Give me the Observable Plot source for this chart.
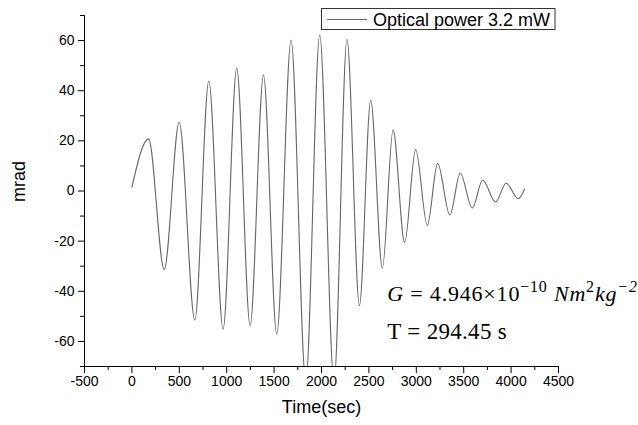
<!DOCTYPE html>
<html><head><meta charset="utf-8">
<script src="https://cdn.jsdelivr.net/npm/d3@7"></script>
<script src="https://cdn.jsdelivr.net/npm/@observablehq/plot@0.6"></script>
<style>body{margin:0;background:#fff}</style>
</head><body><div id="chart"></div>
<script>
const times  = [0, 176, 341, 499, 664, 811, 962, 1106, 1247, 1388, 1528, 1679, 1834, 1981, 2132, 2269,
                2400, 2519, 2642, 2755, 2877, 2993, 3116, 3225, 3354, 3463, 3590, 3700, 3836, 3948, 4076, 4141];
const values = [1.5, 20.8, -31.3, 27.4, -51.5, 43.9, -55.1, 49.0, -53.7, 46.2, -57.1, 60.2, -76, 62.2, -76, 60.5,
                -45.7, 36.3, -30.8, 24.3, -20.5, 16.5, -13.7, 11.0, -9.6, 7.1, -6.8, 4.4, -4.4, 3.1, -3.1, 0.7];
const xTickValues = [-500, 0, 500, 1000, 1500, 2000, 2500, 3000, 3500, 4000, 4500];
const xMinorTicks = [-250, 250, 750, 1250, 1750, 2250, 2750, 3250, 3750, 4250];
const yTickValues = [-60, -40, -20, 0, 20, 40, 60];
const yMinorTicks = [-70, -50, -30, -10, 10, 30, 50, 70];
const xTitle = "Time(sec)";
const yTitle = "mrad";
const seriesName = "Optical power 3.2 mW";
const annotPos = {t: 2700, g: -43.9, T: -59.1};

const data = times.map((t, i) => ({t, v: values[i]}));
const lineColor = "#666";
const fmt = d => String(d);

const plot = Plot.plot({
  width: 638, height: 425,
  marginLeft: 84, marginRight: 80, marginTop: 15, marginBottom: 59,
  x: {domain: [-500, 4500]},
  y: {domain: [-70, 70]},
  style: {fontFamily: "'Liberation Sans', Arial, sans-serif", fontSize: "14px", color: "#000", background: "#fff"},
  marks: [
    Plot.axisX(xTickValues, {tickSize: 7, tickPadding: 3, label: null, fontSize: 14, tickFormat: fmt}),
    Plot.axisX(xMinorTicks, {tickSize: 4, tickFormat: () => "", label: null}),
    Plot.axisY(yTickValues, {tickSize: 6, tickPadding: 4, label: null, fontSize: 14, tickFormat: fmt}),
    Plot.axisY(yMinorTicks, {tickSize: 4, tickFormat: () => "", label: null}),
    Plot.ruleX([-500], {stroke: "#000"}),
    Plot.ruleY([-70], {stroke: "#000"}),
    Plot.line(data, {x: "t", y: "v", curve: "monotone-x", stroke: lineColor, strokeWidth: 1.1, clip: true}),
    Plot.text([xTitle], {frameAnchor: "bottom", dy: 46, fontSize: 18, fill: "#000"}),
    Plot.text([yTitle], {frameAnchor: "left", rotate: -90, dx: -65, dy: 11, fontSize: 18, fill: "#000"})
  ]
});

document.getElementById("chart").appendChild(plot);

const svg = d3.select(plot);
const xs = plot.scale("x"), ys = plot.scale("y");

// legend
const lg = svg.append("g").attr("text-anchor", "start");
lg.append("rect").attr("x", 321.5).attr("y", 8.5).attr("width", 233.5).attr("height", 21)
  .attr("fill", "#fff").attr("stroke", "#333").attr("stroke-width", 1);
lg.append("line").attr("x1", 327).attr("x2", 367).attr("y1", 19.5).attr("y2", 19.5)
  .attr("stroke", lineColor).attr("stroke-width", 1.1);
lg.append("text").attr("x", 373).attr("y", 26).attr("font-size", 18)
  .attr("font-family", "'Liberation Sans', Arial, sans-serif").attr("fill", "#000").text(seriesName);

// annotations
const serif = "'Liberation Serif', 'Times New Roman', serif";
const gx = xs.apply(annotPos.t);
const ag = svg.append("g").attr("text-anchor", "start");
const g1 = ag.append("text").attr("x", gx).attr("y", ys.apply(annotPos.g))
  .attr("font-family", serif).attr("font-size", 22).attr("fill", "#000").attr("letter-spacing", 0.8);
g1.append("tspan").attr("font-style", "italic").text("G");
g1.append("tspan").text(" = 4.946×10");
g1.append("tspan").attr("font-size", 16).attr("dy", -9).text("−10");
g1.append("tspan").attr("dy", 9).attr("font-style", "italic").text(" Nm");
g1.append("tspan").attr("font-size", 16).attr("dy", -9).text("2");
g1.append("tspan").attr("dy", 9).attr("font-style", "italic").text("kg");
g1.append("tspan").attr("font-size", 16).attr("dy", -9).attr("font-style", "italic").text("−2");

ag.append("text").attr("x", gx).attr("y", ys.apply(annotPos.T))
  .attr("font-family", serif).attr("font-size", 23).attr("fill", "#000").attr("letter-spacing", 0.3)
  .text("T = 294.45 s");
</script>
</body></html>
